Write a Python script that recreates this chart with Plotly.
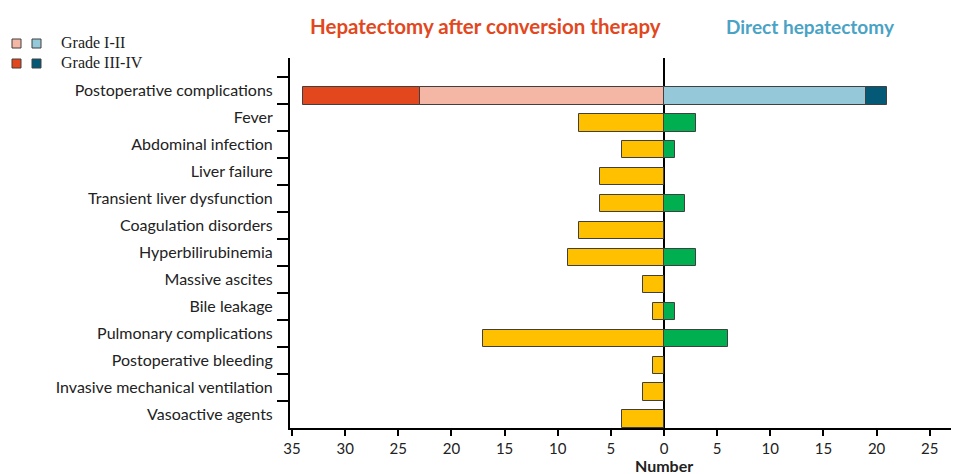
import plotly.graph_objects as go

categories = ["Postoperative complications", "Fever", "Abdominal infection", "Liver failure",
              "Transient liver dysfunction", "Coagulation disorders", "Hyperbilirubinemia",
              "Massive ascites", "Bile leakage", "Pulmonary complications",
              "Postoperative bleeding", "Invasive mechanical ventilation", "Vasoactive agents"]

# Postoperative complications by grade
conv_grade12 = 23
conv_grade34 = 11
direct_grade12 = 19
direct_grade34 = 2

# Individual complications (categories after the first)
conv_counts = [8, 4, 6, 6, 8, 9, 2, 1, 17, 1, 2, 4]
direct_counts = [3, 1, 0, 2, 0, 3, 0, 1, 6, 0, 0, 0]

xtick_vals = [-35, -30, -25, -20, -15, -10, -5, 0, 5, 10, 15, 20, 25]
xtick_text = ["35", "30", "25", "20", "15", "10", "5", "0", "5", "10", "15", "20", "25"]

C_CONV12 = "#F4B7A6"
C_CONV34 = "#E2471D"
C_DIR12 = "#95C9D9"
C_DIR34 = "#035976"
C_YELLOW = "#FFC000"
C_GREEN = "#00B050"
EDGE = dict(color="#404040", width=1)

BW = 0.66
OFF = -0.15

fig = go.Figure()
sub = categories[1:]
fig.add_trace(go.Bar(y=[categories[0]], x=[-conv_grade12], orientation="h", marker=dict(color=C_CONV12, line=EDGE), width=BW, offset=OFF, showlegend=False))
fig.add_trace(go.Bar(y=[categories[0]], x=[-conv_grade34], orientation="h", marker=dict(color=C_CONV34, line=EDGE), width=BW, offset=OFF, showlegend=False))
fig.add_trace(go.Bar(y=[categories[0]], x=[direct_grade12], orientation="h", marker=dict(color=C_DIR12, line=EDGE), width=BW, offset=OFF, showlegend=False))
fig.add_trace(go.Bar(y=[categories[0]], x=[direct_grade34], orientation="h", marker=dict(color=C_DIR34, line=EDGE), width=BW, offset=OFF, showlegend=False))
fig.add_trace(go.Bar(y=sub, x=[-v for v in conv_counts], orientation="h", marker=dict(color=C_YELLOW, line=EDGE), width=BW, offset=OFF, showlegend=False))
dsub = [c for c, v in zip(sub, direct_counts) if v > 0]
dval = [v for v in direct_counts if v > 0]
fig.add_trace(go.Bar(y=dsub, x=dval, orientation="h", marker=dict(color=C_GREEN, line=EDGE), width=BW, offset=OFF, showlegend=False))

L, R, T, B = 290, 5, 58, 46
W, H = 956, 474
pw = W - L - R
ph = H - T - B

def px(x):
    return (x - L) / pw

def py(y):
    return (H - B - y) / ph

# custom legend
shapes = []
for (x0, y0, col) in [(12, 39, C_CONV12), (32, 39, C_DIR12), (12, 59, C_CONV34), (32, 59, C_DIR34)]:
    shapes.append(dict(type="rect", xref="paper", yref="paper", x0=px(x0), x1=px(x0 + 9), y0=py(y0), y1=py(y0 + 9),
                       fillcolor=col, line=dict(color="#404040", width=1)))

annotations = [
    dict(text="Grade I-II", x=px(59), y=py(43), xref="paper", yref="paper", xanchor="left", yanchor="middle",
         showarrow=False, font=dict(family="Liberation Serif", size=16, color="#222")),
    dict(text="Grade III-IV", x=px(59), y=py(63), xref="paper", yref="paper", xanchor="left", yanchor="middle",
         showarrow=False, font=dict(family="Liberation Serif", size=16, color="#222")),
    dict(text="<b>Hepatectomy after conversion therapy</b>", x=px(485), y=py(26), xref="paper", yref="paper",
         xanchor="center", yanchor="middle", showarrow=False, font=dict(family="Lato", size=20.5, color="#E2471D")),
    dict(text="<b>Direct hepatectomy</b>", x=px(810), y=py(26), xref="paper", yref="paper",
         xanchor="center", yanchor="middle", showarrow=False, font=dict(family="Lato", size=19, color="#4AA3C4")),
    dict(text="<b>Number</b>", x=px(664), y=py(465), xref="paper", yref="paper",
         xanchor="center", yanchor="middle", showarrow=False, font=dict(family="Lato", size=16, color="#222")),
]

fig.update_layout(
    width=W, height=H,
    margin=dict(l=L, r=R, t=T, b=B),
    plot_bgcolor="white", paper_bgcolor="white",
    barmode="relative",
    bargap=0,
    shapes=shapes,
    annotations=annotations,
    font=dict(family="Lato", size=15, color="#222"),
    xaxis=dict(range=[-35.19, 27.0], tickvals=xtick_vals, ticktext=xtick_text, showgrid=False,
               automargin=False,
               zeroline=True, zerolinecolor="black", zerolinewidth=2,
               showline=True, linecolor="black", linewidth=2, ticks="outside", ticklen=6, tickwidth=2,
               tickcolor="black", tickfont=dict(family="Lato", size=15, color="#222")),
    yaxis=dict(type="category", categoryorder="array", categoryarray=categories,
               automargin=False,
               range=[12.5, -1.215], showgrid=False, zeroline=False,
               showline=True, linecolor="black", linewidth=2, ticks="outside", ticklen=11, tickwidth=2,
               tickcolor="black", tickson="boundaries", ticklabelstandoff=12,
               tickfont=dict(family="Lato", size=16, color="#222")),
)

fig.write_html("out.html", config={"displayModeBar": False},
               post_script="document.body.style.margin='0';")
